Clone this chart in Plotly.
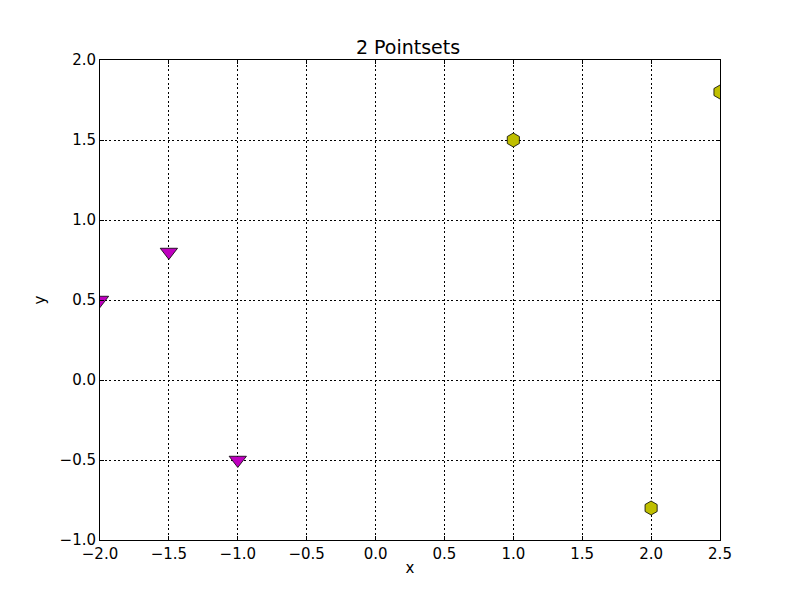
import plotly.graph_objects as go

tri_x = [-2.0, -1.5, -1.0]
tri_y = [0.5, 0.8, -0.5]
hex_x = [1.0, 2.0, 2.5]
hex_y = [1.5, -0.8, 1.8]
x_ticks = [-2.0, -1.5, -1.0, -0.5, 0.0, 0.5, 1.0, 1.5, 2.0, 2.5]
y_ticks = [-1.0, -0.5, 0.0, 0.5, 1.0, 1.5, 2.0]

def lab(v):
    s = f"{v:.1f}"
    return s.replace("-", "\u2212")

fig = go.Figure()
fig.add_trace(go.Scatter(x=tri_x, y=tri_y, mode="markers",
                         marker=dict(symbol="triangle-down", size=15, color="#bf00bf",
                                     line=dict(color="#000000", width=0.8))))
fig.add_trace(go.Scatter(x=hex_x, y=hex_y, mode="markers",
                         marker=dict(symbol="hexagon", size=14, color="#bfbf00",
                                     line=dict(color="#000000", width=0.8))))

axis_common = dict(showgrid=True, gridcolor="#000000", griddash="2px,2.5px", gridwidth=1,
                   zeroline=False, showline=True, linecolor="#000000", linewidth=1,
                   mirror="ticks", ticks="inside", ticklen=4, tickcolor="#000000",
                   tickfont=dict(family="DejaVu Sans", size=15, color="#000000"))

fig.update_layout(
    width=800, height=600,
    margin=dict(l=92, r=88, t=52, b=68),
    paper_bgcolor="#ffffff", plot_bgcolor="#ffffff",
    showlegend=False,
    title=dict(text="2 Pointsets", x=0.5, xanchor="center", y=1 - 39/600, yanchor="middle",
               font=dict(family="DejaVu Sans", size=19, color="#000000")),
    xaxis=dict(range=[-2.0, 2.5], tickvals=x_ticks, ticktext=[lab(v) for v in x_ticks],
               title=dict(text="x", font=dict(family="DejaVu Sans", size=15, color="#000000"), standoff=0),
               **axis_common),
    yaxis=dict(range=[-1.0, 2.0], tickvals=y_ticks, ticktext=[lab(v) for v in y_ticks],
               title=dict(text="y", font=dict(family="DejaVu Sans", size=15, color="#000000"), standoff=10),
               **axis_common),
)
fig.write_html("out.html")
